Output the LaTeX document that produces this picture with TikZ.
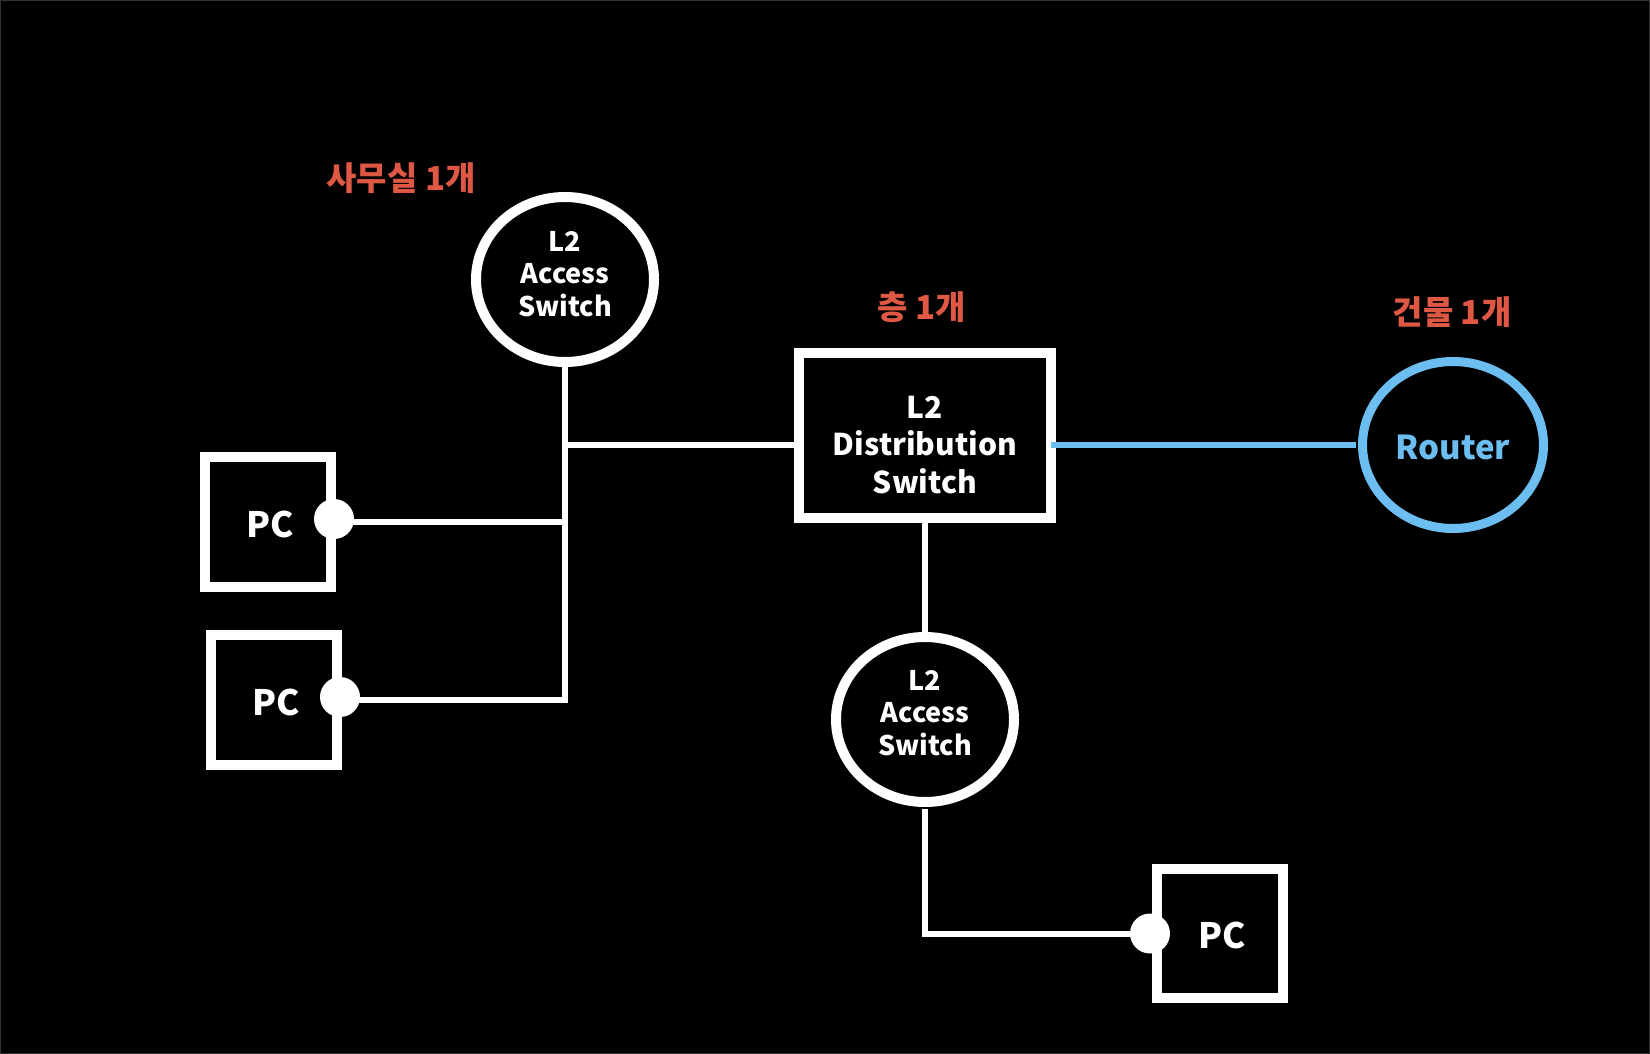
\documentclass[tikz,border=0pt]{standalone}
\usepackage{fontspec}
\setmainfont{Noto Sans CJK KR}
\newfontfamily\krfont{Noto Sans CJK KR}
\usetikzlibrary{shapes.geometric,calc}
\definecolor{lblred}{HTML}{DE5844}
\definecolor{rtblue}{HTML}{6DBEF0}
\begin{document}
\begin{tikzpicture}[x=1pt,y=-1pt,
  sw/.style={ellipse,draw=white,line width=10pt,fill=black,inner sep=0pt,outer sep=0pt,
    minimum width=178pt,minimum height=165pt},
  swlbl/.style={text=white,align=center,inner sep=0pt,
    font=\bfseries\fontsize{27}{32.5}\selectfont},
  pcbox/.style={rectangle,draw=white,line width=10pt,inner sep=0pt,outer sep=0pt,
    minimum width=126pt,minimum height=130pt},
  pclbl/.style={text=white,inner sep=0pt,font=\bfseries\fontsize{35}{40}\selectfont},
  dot/.style={circle,fill=white,inner sep=0pt,minimum size=40pt},
  wire/.style={draw=white,line width=6pt},
  bwire/.style={draw=rtblue,line width=6pt},
  klbl/.style={text=lblred,font=\krfont\bfseries\fontsize{33}{36}\selectfont,inner sep=0pt}]
\fill[black] (0,0) rectangle (1650,1054);
\draw[draw=black!80!white,line width=1pt] (0.5,0.5) rectangle (1649.5,1053.5);

% nodes
\node[sw] (a1) at (565,279.5) {};
\node[swlbl] (a1lbl) at (565,274) {L2\\Access\\Switch};
\node[sw] (a2) at (925,719.5) {};
\node[swlbl] (a2lbl) at (925,713) {L2\\Access\\Switch};
\node[rectangle,draw=white,line width=10pt,inner sep=0pt,outer sep=0pt,
  minimum width=252pt,minimum height=165pt] (dist) at (925,435.5) {};
\node[text=white,align=center,inner sep=0pt,font=\bfseries\fontsize{30}{37.6}\selectfont] (distlbl) at (925,445) {L2\\Distribution\\Switch};
\node[ellipse,draw=rtblue,line width=9pt,inner sep=0pt,outer sep=0pt,
  minimum width=181pt,minimum height=167pt] (router) at (1453,445) {};
\node[text=rtblue,inner sep=0pt,font=\bfseries\fontsize{33}{40}\selectfont] (rtlbl) at (1453,447) {Router};

\node[pcbox] (pc1) at (268,522) {};
\node[pclbl] (pc1lbl) at (270,524) {PC};
\node[pcbox] (pc2) at (274,700) {};
\node[pclbl] (pc2lbl) at (276,702) {PC};
\node[pcbox,minimum height=129pt] (pc3) at (1220,933.5) {};
\node[pclbl] (pc3lbl) at (1222,935) {PC};

\node[klbl] (k1) at (401,178) {사무실 1개};
\node[klbl] (k2) at (922,307) {층 1개};
\node[klbl] (k3) at (1452,312) {건물 1개};

% connectors
\coordinate (a1b) at ($(a1.south)+(0,3)$);
\coordinate (a2b) at ($(a2.south)+(0,7)$);
\coordinate (rtin) at ($(router.west)+(-6.5,0)$);

\draw[wire] (a1b) |- ($(pc2.east)+(3,0)$);
\draw[wire] ($(pc1.east)+(3,0)$) -- (pc1.east -| a1b);
\draw[wire] (a1b |- router.west) -- (dist.west |- router.west);
\draw[wire] (dist.south) -- (a2.north);
\draw[wire] (a2b) |- ($(pc3.west)+(-7,0)$);
\draw[bwire] (dist.east |- router.west) -- (rtin);

\node[dot] (d1) at ($(pc1.east)+(3,-3)$) {};
\node[dot] (d2) at ($(pc2.east)+(3,-3)$) {};
\node[dot] (d3) at ($(pc3.west)+(-7,0)$) {};
\end{tikzpicture}
\end{document}
